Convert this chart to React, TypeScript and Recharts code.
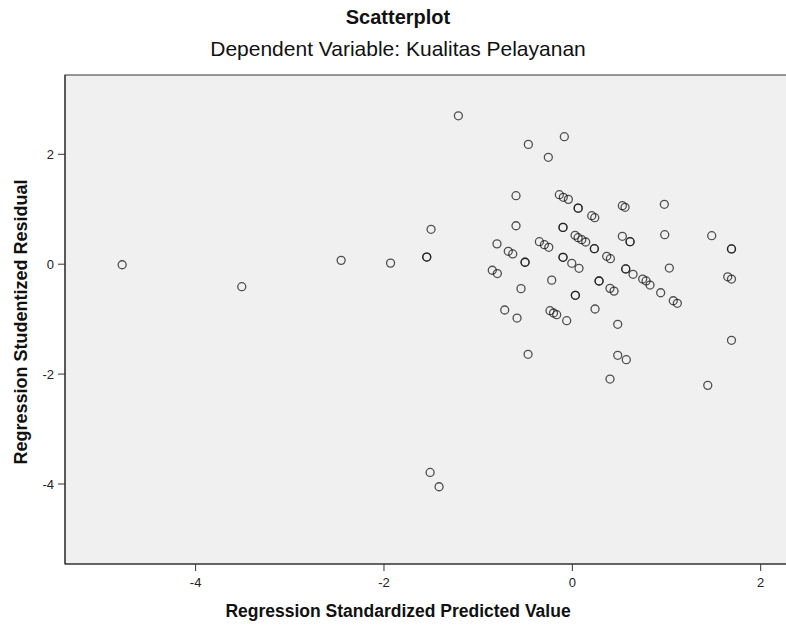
import {
  ReferenceArea,
  Scatter,
  ScatterChart,
  XAxis,
  YAxis,
} from 'recharts';

// Regression Standardized Predicted Value
const predicted = [
  -4.78, -3.51, -2.455, -1.93, -1.546, -1.546, -1.5, -1.21, -1.51, -1.415,
  -0.467, -0.085, -0.255, -0.598, -0.138, -0.096, -0.042, 0.062, 0.062, 0.206,
  0.238, 0.531, 0.56, 0.977, -0.598, -0.099, -0.099, 0.029, 0.061, 0.1,
  0.142, 0.234, 0.234, 0.531, 0.613, 0.613, 0.981, 1.48, 1.69, 1.69,
  -0.8, -0.68, -0.633, -0.502, -0.502, -0.35, -0.297, -0.25, -0.099, -0.099,
  -0.006, 0.071, 0.365, 0.404, 0.567, 0.567, 0.645, 0.747, 0.783, 0.825,
  0.938, 1.03, 1.65, 1.69, -0.85, -0.796, -0.545, -0.219, 0.032, 0.032,
  0.284, 0.284, 0.4, 0.443, 1.072, 1.115, -0.718, -0.587, -0.237, -0.2,
  -0.166, -0.06, 0.241, 0.482, 1.69, -0.47, 0.482, 0.573, 0.4, 1.438,
];

// Regression Studentized Residual
const residual = [
  -0.01, -0.41, 0.07, 0.02, 0.13, 0.13, 0.635, 2.7, -3.79, -4.05,
  2.18, 2.32, 1.945, 1.247, 1.265, 1.217, 1.18, 1.02, 1.02, 0.883,
  0.846, 1.065, 1.035, 1.09, 0.7, 0.67, 0.67, 0.526, 0.482, 0.446,
  0.404, 0.282, 0.282, 0.508, 0.41, 0.41, 0.537, 0.519, 0.277, 0.277,
  0.37, 0.235, 0.186, 0.035, 0.035, 0.41, 0.355, 0.307, 0.125, 0.125,
  0.016, -0.075, 0.144, 0.1, -0.087, -0.087, -0.184, -0.27, -0.305, -0.38,
  -0.52, -0.07, -0.23, -0.27, -0.11, -0.17, -0.445, -0.29, -0.566, -0.566,
  -0.306, -0.306, -0.44, -0.49, -0.665, -0.712, -0.834, -0.98, -0.846, -0.888,
  -0.919, -1.028, -0.815, -1.094, -1.385, -1.64, -1.658, -1.738, -2.09, -2.205,
];

const xTicks = [-4, -2, 0, 2];
const yTicks = [2, 0, -2, -4];

const X_MIN = -5.387;
const X_MAX = 2.29;
const Y_MIN = -5.456;
const Y_MAX = 3.443;

const FONT = "'Liberation Sans', Arial, sans-serif";

const points = predicted.map((x, i) => ({ x, y: residual[i] }));

const Ring = (props: any) => (
  <circle
    cx={props.cx}
    cy={props.cy}
    r={4}
    fill='none'
    stroke='#111'
    strokeOpacity={0.72}
    strokeWidth={1.3}
  />
);

export default function App() {
  return (
    <div
      style={{
        position: 'absolute',
        left: 0,
        top: 0,
        width: 786,
        height: 626,
        background: '#fff',
        fontFamily: FONT,
        color: '#111',
      }}
    >
      <div
        style={{
          position: 'absolute',
          left: 0,
          width: 796,
          top: 6,
          textAlign: 'center',
          fontWeight: 700,
          fontSize: 20,
        }}
      >
        Scatterplot
      </div>
      <div
        style={{
          position: 'absolute',
          left: 0,
          width: 796,
          top: 37,
          textAlign: 'center',
          fontSize: 21,
        }}
      >
        Dependent Variable: Kualitas Pelayanan
      </div>
      <div
        style={{
          position: 'absolute',
          left: 0,
          width: 796,
          top: 601,
          textAlign: 'center',
          fontWeight: 700,
          fontSize: 17.5,
        }}
      >
        Regression Standardized Predicted Value
      </div>
      <div
        style={{
          position: 'absolute',
          left: 21,
          top: 322,
          transform: 'translate(-50%, -50%) rotate(-90deg)',
          whiteSpace: 'nowrap',
          fontWeight: 700,
          fontSize: 18,
        }}
      >
        Regression Studentized Residual
      </div>
      <ScatterChart
        width={786}
        height={626}
        margin={{ top: 75, right: -2, bottom: 32, left: 20 }}
        style={{ position: 'absolute', left: 0, top: 0 }}
      >
        <XAxis
          type='number'
          dataKey='x'
          domain={[X_MIN, X_MAX]}
          ticks={xTicks}
          allowDataOverflow
          height={30}
          tickSize={7}
          tickMargin={7}
          axisLine={{ stroke: '#333' }}
          tickLine={{ stroke: '#333' }}
          tick={{ fill: '#222', fontSize: 13, fontFamily: FONT }}
        />
        <YAxis
          type='number'
          dataKey='y'
          domain={[Y_MIN, Y_MAX]}
          ticks={yTicks}
          allowDataOverflow
          width={45}
          tickSize={7}
          tickMargin={4}
          axisLine={{ stroke: '#333' }}
          tickLine={{ stroke: '#333' }}
          tick={{ fill: '#222', fontSize: 13, fontFamily: FONT }}
        />
        <ReferenceArea
          x1={X_MIN}
          x2={X_MAX}
          y1={Y_MIN}
          y2={Y_MAX}
          fill='#f0f0f0'
          fillOpacity={1}
          stroke='#333'
          strokeWidth={1.2}
        />
        <Scatter data={points} shape={Ring} isAnimationActive={false} />
      </ScatterChart>
    </div>
  );
}
